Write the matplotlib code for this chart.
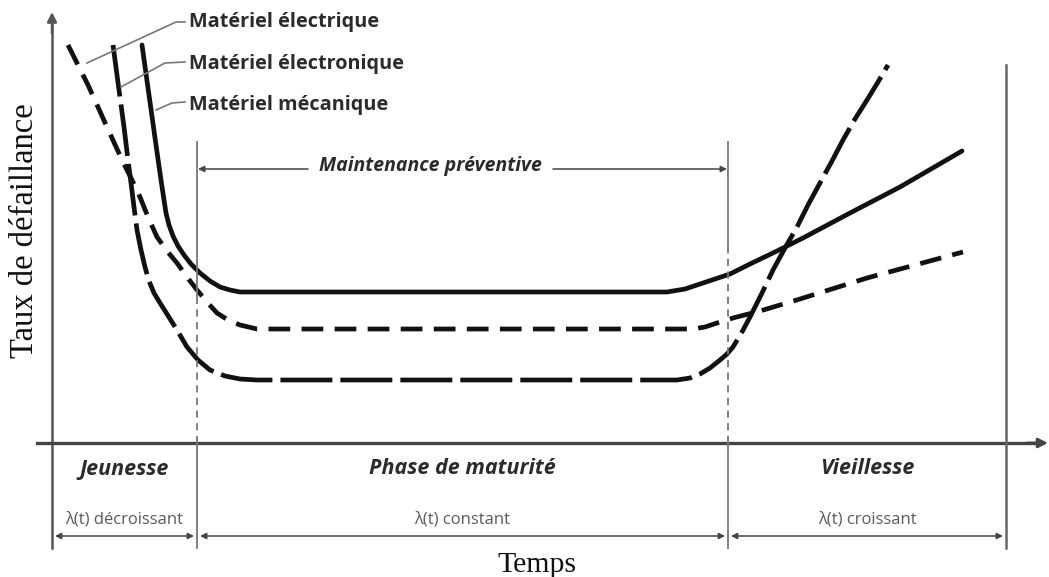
import matplotlib
matplotlib.use("Agg")
import numpy as np
import matplotlib.pyplot as plt

# %% Data: failure rate curves (time, rate)
meca_t = [90, 97, 104, 109, 112, 114, 117, 121, 126, 132, 139, 148, 158,
          168, 178, 188, 615, 633, 648, 663, 678, 698, 725, 751, 798, 848, 910]
meca_r = [398, 348, 298, 263, 243, 230, 218, 207, 197, 188, 179, 170, 162,
          156, 153, 151, 151, 154, 159, 164, 169, 179, 192, 205, 230, 256, 292]

elec_t = [16, 36, 55, 70, 80, 88, 96, 105, 115, 125, 135, 145, 155, 165,
          176, 188, 205, 641, 653, 665, 681, 708, 748, 815, 911]
elec_r = [398, 358, 316, 283, 263, 246, 226, 206, 192, 180, 166, 153, 141,
          130, 123, 118, 114, 114, 116, 120, 125, 132, 144, 165, 191]

tron_t = [61, 67, 72, 76, 79, 82, 85, 89, 93, 97, 102, 108, 115, 125, 135,
          146, 158, 173, 188, 205, 625, 638, 648, 658, 668, 675, 681, 690,
          698, 710, 721, 733, 745, 756, 768, 780, 791, 803, 815, 826, 836]
tron_r = [398, 353, 316, 283, 260, 236, 213, 193, 176, 162, 150, 140, 129,
          113, 96, 83, 73, 67, 64, 63, 63, 65, 69, 75, 83, 89, 96, 111, 126,
          150, 173, 195, 216, 238, 260, 282, 303, 324, 343, 361, 378]

curve_labels = ["Matériel électrique", "Matériel électronique", "Matériel mécanique"]
phases = ["Jeunesse", "Phase de maturité", "Vieillesse"]
phase_rates = ["λ(t) décroissant", "λ(t) constant", "λ(t) croissant"]
phase_bounds = [0, 145, 676, 954]  # start of life, end of youth, end of maturity, end

# %% Figure
fig = plt.figure(figsize=(10.49, 5.77), dpi=100)
ax = fig.add_axes([0, 0, 1, 1])
ax.set_xlim(-52, 997)
ax.set_ylim(-134, 443)
ax.axis('off')

sans = ['Open Sans', 'DejaVu Sans']
serif = ['Liberation Serif', 'DejaVu Serif']
ink = '#111111'
grey = '#555555'

# curves
ax.plot(meca_t, meca_r, color=ink, lw=3.4, solid_joinstyle='round',
        solid_capstyle='round')
ax.plot(elec_t, elec_r, color=ink, lw=3.4, dashes=(4.6, 2.4),
        dash_capstyle='butt', dash_joinstyle='round')
ax.plot(tron_t, tron_r, color=ink, lw=3.4, dashes=(11, 1.7),
        dash_capstyle='butt', dash_joinstyle='round')

# axes with arrows
ax.plot([0, 0], [-105, 425], color=grey, lw=1.8)
ax.annotate('', xy=(0, 431), xytext=(0, 410),
            arrowprops=dict(arrowstyle='-|>', color=grey, lw=1.8,
                            mutation_scale=14, shrinkA=0, shrinkB=0))
ax.plot([-15, 988], [0, 0], color='#444444', lw=2.4)
ax.annotate('', xy=(996, 0), xytext=(975, 0),
            arrowprops=dict(arrowstyle='-|>', color='#444444', lw=2.0,
                            mutation_scale=14, shrinkA=0, shrinkB=0))

# phase dividers
ax.plot([phase_bounds[3]] * 2, [-105, 378], color='#666666', lw=1.8)
for t, solid_to in zip(phase_bounds[1:3], [143, 198]):
    ax.plot([t, t], [solid_to, 301], color='#777777', lw=1.3)
    ax.plot([t, t], [0, solid_to], color='#777777', lw=1.3, dashes=(4, 3))
    ax.plot([t, t], [-105, 0], color='#777777', lw=1.3)

# preventive maintenance span
arrow_kw = dict(arrowstyle='-|>', color='#444444', lw=1.1,
                mutation_scale=9, shrinkA=0, shrinkB=0)
ax.annotate('', xy=(phase_bounds[1] + 1, 274), xytext=(256, 274),
            arrowprops=arrow_kw)
ax.annotate('', xy=(phase_bounds[2] - 1, 274), xytext=(501, 274),
            arrowprops=arrow_kw)
ax.text(378, 277, "Maintenance préventive", family=sans, fontsize=14,
        fontweight='bold', fontstyle='italic', color='#2b2b2b',
        ha='center', va='center')

# curve labels with leader lines
label_r = [421, 379, 338]
leaders = [([133, 124, 35], [421, 421, 380]),
           ([133, 113, 69], [381, 380, 356]),
           ([133, 120, 104], [341, 340, 333])]
for label, r, (lt, lr) in zip(curve_labels, label_r, leaders):
    ax.plot(lt, lr, color='#777777', lw=1.2)
    ax.text(137, r, label, family=sans, fontsize=14.3, fontweight='bold',
            color='#2b2b2b', ha='left', va='center')

# phases below the time axis
for i, (name, rate) in enumerate(zip(phases, phase_rates)):
    a, b = phase_bounds[i], phase_bounds[i + 1]
    mid = (a + b) / 2
    ax.text(mid, -26, name, family=sans, fontsize=15.5, fontweight='bold',
            fontstyle='italic', color='#2b2b2b', ha='center', va='center')
    ax.text(mid, -77, rate, family=sans, fontsize=12, color='#5a5a5a',
            ha='center', va='center')
    ax.annotate('', xy=(a + 3, -93), xytext=(b - 3, -93),
                arrowprops=dict(arrowstyle='<|-|>', color='#444444', lw=1.1,
                                mutation_scale=9, shrinkA=0, shrinkB=0))

# axis titles
ax.text(485, -122, "Temps", family=serif, fontsize=21.5, color='#111111',
        ha='center', va='center')
ax.text(-27, 212, "Taux de défaillance", family=serif, fontsize=23.5,
        color='#111111', ha='center', va='center', rotation=90)

fig.savefig("out.png", dpi=100)
